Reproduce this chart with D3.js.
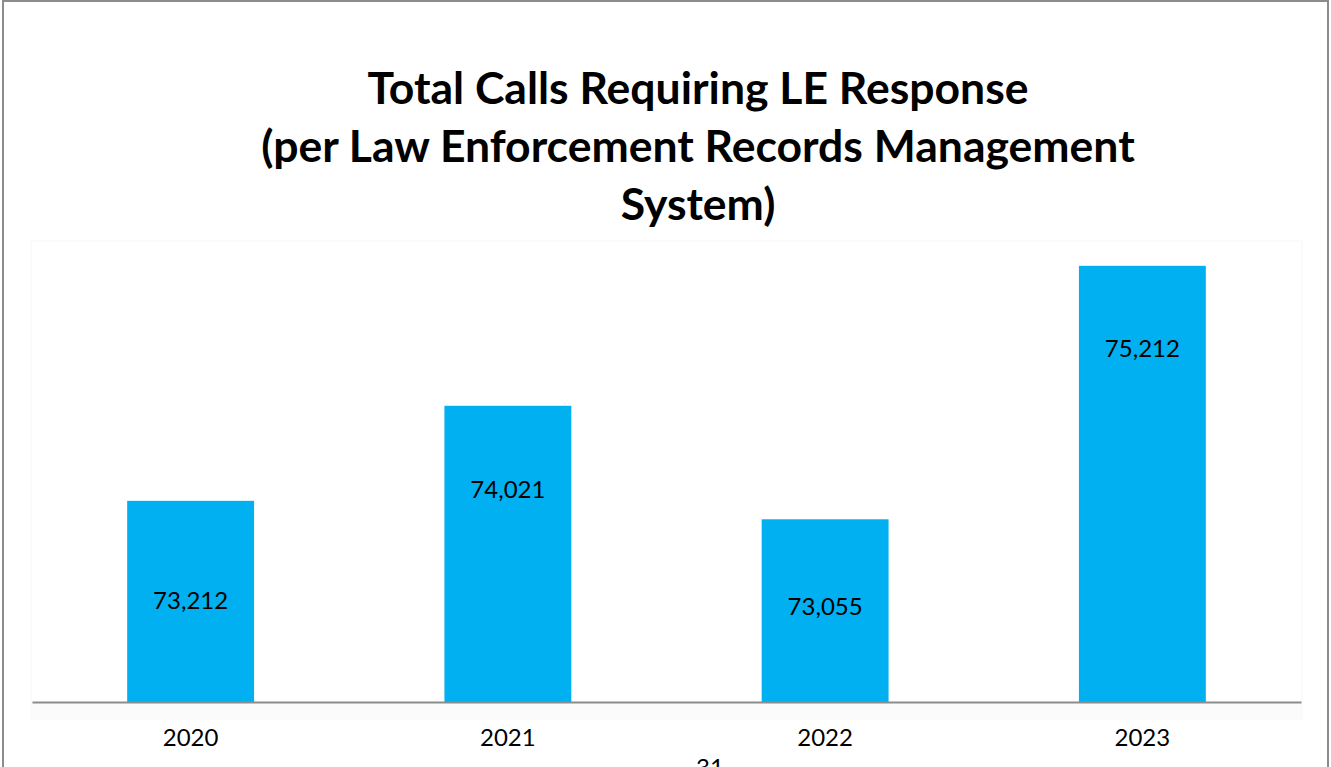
<!DOCTYPE html>
<html><head><meta charset="utf-8">
<script src="https://cdn.jsdelivr.net/npm/d3@7"></script>
<style>body{margin:0;background:#fff;}svg{display:block;}</style>
</head><body>
<script>
const categories = ["2020", "2021", "2022", "2023"];
const values = [73212, 74021, 73055, 75212];
const valueLabels = ["73,212", "74,021", "73,055", "75,212"];
const titleLines = ["Total Calls Requiring LE Response", "(per Law Enforcement Records Management", "System)"];
const axisMin = 71500, axisMax = 75500;

const W = 1331, H = 767;
const svg = d3.select("body").append("svg").attr("width", W).attr("height", H);
const font = "Lato, 'Open Sans', sans-serif";

// outer frame
svg.append("rect").attr("x", 3).attr("y", 1).attr("width", 1325).attr("height", 780)
  .attr("fill", "#fff").attr("stroke", "#8c8c8c").attr("stroke-width", 2);

const plot = {left: 32, right: 1301, top: 232, bottom: 702};
// faint plot area shade
svg.append("rect").attr("x", plot.left - 2).attr("y", 240).attr("width", plot.right - plot.left + 4)
  .attr("height", 480).attr("fill", "#fbfbfb");
svg.append("rect").attr("x", plot.left).attr("y", 242).attr("width", plot.right - plot.left)
  .attr("height", plot.bottom - 242).attr("fill", "#fff");

const x = d3.scaleBand().domain(categories).range([plot.left, plot.right]).paddingInner(0.6).paddingOuter(0.3);
const y = d3.scaleLinear().domain([axisMin, axisMax]).range([plot.bottom, plot.top]);

svg.selectAll("rect.bar").data(values).join("rect").attr("class", "bar")
  .attr("x", (d, i) => x(categories[i])).attr("width", x.bandwidth())
  .attr("y", d => y(d)).attr("height", d => plot.bottom - y(d))
  .attr("fill", "#00B0F0");

const labelOffsets = [100, 84, 88, 83];
svg.selectAll("text.val").data(values).join("text").attr("class", "val")
  .attr("x", (d, i) => x(categories[i]) + x.bandwidth() / 2)
  .attr("y", (d, i) => y(d) + labelOffsets[i] + 8)
  .attr("text-anchor", "middle").attr("font-family", font).attr("font-size", 24).attr("fill", "#000")
  .text((d, i) => valueLabels[i]);

// axis
const xAxis = d3.axisBottom(x).tickSize(0).tickPadding(27);
const gx = svg.append("g").attr("transform", `translate(0,${plot.bottom})`).call(xAxis);
gx.select(".domain").attr("stroke", "#8c8c8c").attr("stroke-width", 2);
gx.selectAll("text").attr("font-family", font).attr("font-size", 24).attr("fill", "#000");

// title
svg.append("text").attr("text-anchor", "middle").attr("font-family", font).attr("font-weight", "bold")
  .attr("font-size", 44.5).attr("fill", "#000")
  .selectAll("tspan").data(titleLines).join("tspan")
  .attr("x", 698).attr("y", (d, i) => 104 + i * 58).text(d => d);

// page number (cut off at the page edge, as in the reference)
svg.append("text").attr("x", 710).attr("y", 776).attr("text-anchor", "middle")
  .attr("font-family", font).attr("font-size", 24).attr("fill", "#000").text("31");
</script>
</body></html>
